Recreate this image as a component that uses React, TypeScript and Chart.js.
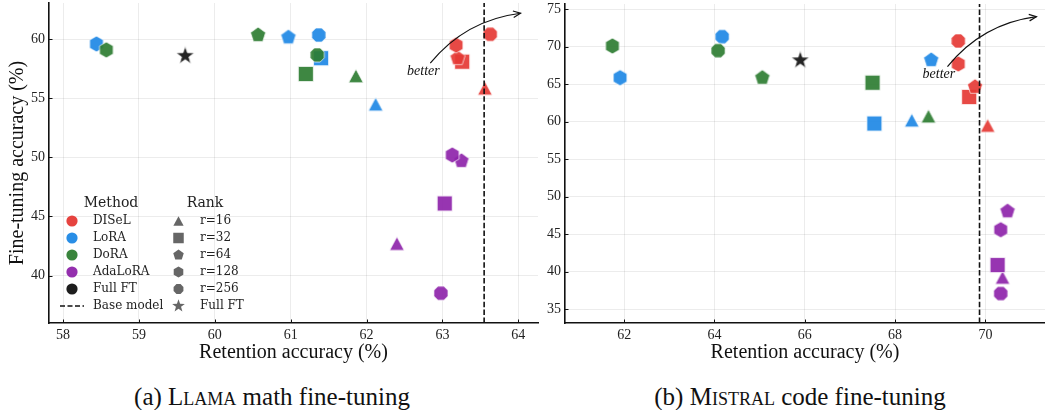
import React, { useEffect, useRef } from 'react';
import { Chart, registerables } from 'chart.js';

Chart.register(...registerables);

// ---------- categories ----------
const METHODS = ['DISeL', 'LoRA', 'DoRA', 'AdaLoRA', 'Full FT'];
const METHOD_COLORS = ['#E53935', '#1E88E5', '#2E7D32', '#8E24AA', '#111111'];
const RANKS = ['r=16', 'r=32', 'r=64', 'r=128', 'r=256', 'Full FT'];
const RANK_SHAPES = ['triangle', 'square', 'pentagon', 'hexagon', 'octagon', 'star'];

// ---------- (a) LLAMA math fine-tuning : values per rank [16, 32, 64, 128, 256] ----------
const LLAMA_DISEL_X = [63.56, 63.26, 63.2, 63.18, 63.63];
const LLAMA_DISEL_Y = [55.85, 58.1, 58.4, 59.5, 60.42];
const LLAMA_LORA_X = [62.12, 61.4, 60.97, 58.44, 61.37];
const LLAMA_LORA_Y = [54.5, 58.4, 60.17, 59.6, 60.36];
const LLAMA_DORA_X = [61.86, 61.2, 60.57, 58.57, 61.35];
const LLAMA_DORA_Y = [56.9, 57.06, 60.36, 59.1, 58.67];
const LLAMA_ADALORA_X = [62.4, 63.03, 63.25, 63.13, 62.98];
const LLAMA_ADALORA_Y = [42.7, 46.1, 49.7, 50.2, 38.5];
const LLAMA_FULLFT = [59.61, 58.6];
const LLAMA_BASE = 63.55;
const LLAMA_X_RANGE = [57.814, 64.26];
const LLAMA_Y_RANGE = [35.98, 63.07];
const LLAMA_ARROW_FROM = [62.84, 57.97];
const LLAMA_ARROW_TO = [64.03, 62.2];
const LLAMA_ARROW_TEXT = [62.75, 57.26];

// ---------- (b) MISTRAL code fine-tuning ----------
const MISTRAL_DISEL_X = [70.05, 69.64, 69.77, 69.4, 69.4];
const MISTRAL_DISEL_Y = [59.5, 63.3, 64.65, 67.7, 70.76];
const MISTRAL_LORA_X = [68.37, 67.54, 68.8, 61.91, 64.17];
const MISTRAL_LORA_Y = [60.2, 59.76, 68.22, 65.86, 71.34];
const MISTRAL_DORA_X = [68.74, 67.5, 65.06, 61.74, 64.08];
const MISTRAL_DORA_Y = [60.74, 65.2, 65.86, 70.1, 69.47];
const MISTRAL_ADALORA_X = [70.38, 70.27, 70.49, 70.34, 70.34];
const MISTRAL_ADALORA_Y = [39.25, 40.9, 48.07, 45.6, 37.1];
const MISTRAL_FULLFT = [65.9, 68.2];
const MISTRAL_BASE = 69.87;
const MISTRAL_X_RANGE = [60.69, 71.32];
const MISTRAL_Y_RANGE = [33.17, 75.69];
const MISTRAL_ARROW_FROM = [69.16, 67.33];
const MISTRAL_ARROW_TO = [71.13, 74.0];
const MISTRAL_ARROW_TEXT = [68.97, 66.36];

const SERIF = "'Liberation Serif', 'Times New Roman', serif";
const LEGEND_FONT = "'DejaVu Serif', serif";

function shapePath(ctx: CanvasRenderingContext2D, shape: string, cx: number, cy: number, k: number) {
  ctx.beginPath();
  const poly = (n: number, r: number, rot: number) => {
    for (let i = 0; i < n; i++) {
      const a = rot + (i * 2 * Math.PI) / n;
      const x = cx + r * k * Math.sin(a);
      const y = cy - r * k * Math.cos(a);
      if (i === 0) ctx.moveTo(x, y);
      else ctx.lineTo(x, y);
    }
    ctx.closePath();
  };
  switch (shape) {
    case 'triangle':
      ctx.moveTo(cx, cy - 6.8 * k);
      ctx.lineTo(cx + 7.3 * k, cy + 6.8 * k);
      ctx.lineTo(cx - 7.3 * k, cy + 6.8 * k);
      ctx.closePath();
      break;
    case 'square':
      ctx.rect(cx - 7.5 * k, cy - 7.5 * k, 15 * k, 15 * k);
      break;
    case 'pentagon':
      poly(5, 7.9, 0);
      break;
    case 'hexagon':
      poly(6, 7.9, 0);
      break;
    case 'octagon':
      poly(8, 7.6, Math.PI / 8);
      break;
    case 'circle':
      ctx.arc(cx, cy, 5.6 * k, 0, Math.PI * 2);
      break;
    case 'star': {
      const ro = 9.5 * k;
      const ri = ro * 0.4;
      for (let i = 0; i < 10; i++) {
        const r = i % 2 === 0 ? ro : ri;
        const a = (i * Math.PI) / 5;
        const x = cx + r * Math.sin(a);
        const y = cy - r * Math.cos(a);
        if (i === 0) ctx.moveTo(x, y);
        else ctx.lineTo(x, y);
      }
      ctx.closePath();
      break;
    }
  }
}

function makeMarker(shape: string, color: string): HTMLCanvasElement {
  const c = document.createElement('canvas');
  c.width = 24;
  c.height = 24;
  const ctx = c.getContext('2d')!;
  ctx.globalAlpha = 0.92;
  shapePath(ctx, shape, 12, 12, 1);
  ctx.fillStyle = color;
  ctx.fill();
  ctx.globalAlpha = 0.85;
  ctx.strokeStyle = '#ffffff';
  ctx.lineWidth = 0.8;
  ctx.stroke();
  return c;
}

const inwardTicks = {
  id: 'inwardTicks',
  afterDraw(chart: any) {
    const { ctx, chartArea } = chart;
    const xs = chart.scales.x;
    const ys = chart.scales.y;
    ctx.save();
    ctx.strokeStyle = '#111';
    ctx.lineWidth = 1;
    xs.ticks.forEach((_t: any, i: number) => {
      const px = Math.round(xs.getPixelForTick(i)) + 0.5;
      ctx.beginPath();
      ctx.moveTo(px, chartArea.bottom);
      ctx.lineTo(px, chartArea.bottom - 3.5);
      ctx.stroke();
    });
    ys.ticks.forEach((_t: any, i: number) => {
      const py = Math.round(ys.getPixelForTick(i)) + 0.5;
      ctx.beginPath();
      ctx.moveTo(chartArea.left, py);
      ctx.lineTo(chartArea.left + 3.5, py);
      ctx.stroke();
    });
    ctx.restore();
  },
};

function arrowPlugin(from: number[], to: number[], textAt: number[]) {
  return {
    id: 'betterArrow',
    afterDraw(chart: any) {
      const { ctx } = chart;
      const xs = chart.scales.x;
      const ys = chart.scales.y;
      const x1 = xs.getPixelForValue(from[0]);
      const y1 = ys.getPixelForValue(from[1]);
      const x2 = xs.getPixelForValue(to[0]);
      const y2 = ys.getPixelForValue(to[1]);
      const rad = 0.2;
      const dx = x2 - x1;
      const dy = y2 - y1;
      const cx = (x1 + x2) / 2 + rad * dy;
      const cy = (y1 + y2) / 2 - rad * dx;
      ctx.save();
      ctx.strokeStyle = '#111';
      ctx.lineWidth = 1.2;
      ctx.beginPath();
      ctx.moveTo(x1, y1);
      ctx.quadraticCurveTo(cx, cy, x2, y2);
      ctx.stroke();
      const ang = Math.atan2(y2 - cy, x2 - cx);
      const L = 8;
      const spread = 0.42;
      ctx.beginPath();
      ctx.moveTo(x2 - L * Math.cos(ang - spread), y2 - L * Math.sin(ang - spread));
      ctx.lineTo(x2, y2);
      ctx.lineTo(x2 - L * Math.cos(ang + spread), y2 - L * Math.sin(ang + spread));
      ctx.stroke();
      ctx.fillStyle = '#111';
      ctx.font = `italic 14px ${SERIF}`;
      ctx.textAlign = 'center';
      ctx.textBaseline = 'middle';
      ctx.fillText('better', xs.getPixelForValue(textAt[0]), ys.getPixelForValue(textAt[1]));
      ctx.restore();
    },
  };
}

const legendPlugin = {
  id: 'twoColumnLegend',
  afterDraw(chart: any) {
    const { ctx, chartArea } = chart;
    const L = chartArea.left;
    const B = chartArea.bottom;
    ctx.save();
    ctx.fillStyle = '#222';
    ctx.textBaseline = 'middle';
    ctx.textAlign = 'center';
    ctx.font = `14px ${LEGEND_FONT}`;
    ctx.fillText('Method', L + 62, B - 120);
    ctx.fillText('Rank', L + 156, B - 120);
    ctx.font = `12px ${LEGEND_FONT}`;
    ctx.textAlign = 'left';
    const y0 = B - 102;
    const step = 17;
    METHODS.forEach((m, i) => {
      const y = y0 + i * step;
      ctx.save();
      ctx.globalAlpha = 0.95;
      shapePath(ctx, 'circle', L + 23, y, 1);
      ctx.fillStyle = METHOD_COLORS[i];
      ctx.fill();
      ctx.restore();
      ctx.fillText(m, L + 44, y);
    });
    const yb = y0 + METHODS.length * step;
    ctx.save();
    ctx.strokeStyle = '#111';
    ctx.lineWidth = 1.5;
    ctx.setLineDash([5, 2.5]);
    ctx.beginPath();
    ctx.moveTo(L + 11, yb);
    ctx.lineTo(L + 35, yb);
    ctx.stroke();
    ctx.restore();
    ctx.fillText('Base model', L + 44, yb);
    RANKS.forEach((r, i) => {
      const y = y0 + i * step;
      ctx.save();
      shapePath(ctx, RANK_SHAPES[i], L + 129.5, y, 0.7);
      ctx.fillStyle = '#666';
      ctx.fill();
      ctx.restore();
      ctx.fillText(r, L + 151, y);
    });
    ctx.restore();
  },
};

type Spec = {
  xs: number[][];
  ys: number[][];
  full: number[];
  base: number;
  xRange: number[];
  yRange: number[];
  xStep: number;
  yStep: number;
  yAxisWidth: number;
  showYTitle: boolean;
  padding: { left: number; right: number; top: number; bottom: number };
  arrow: any;
  legend: boolean;
};

function zeroPad(s: any) {
  s.paddingTop = 0;
  s.paddingBottom = 0;
  s.paddingLeft = 0;
  s.paddingRight = 0;
}

function buildChart(canvas: HTMLCanvasElement, spec: Spec) {
  const datasets: any[] = [];
  datasets.push({
    label: 'Base model',
    data: [
      { x: spec.base, y: spec.yRange[0] },
      { x: spec.base, y: spec.yRange[1] },
    ],
    showLine: true,
    borderColor: '#111',
    borderWidth: 1.6,
    borderDash: [5.5, 2.4],
    pointRadius: 0,
    order: 0,
  });
  datasets.push({
    label: 'Full FT',
    data: [{ x: spec.full[0], y: spec.full[1] }],
    pointStyle: makeMarker('star', METHOD_COLORS[4]),
    pointRadius: 9,
    order: 1,
  });
  for (let m = 0; m < 4; m++) {
    datasets.push({
      label: METHODS[m],
      data: spec.xs[m].map((x, i) => ({ x, y: spec.ys[m][i] })),
      pointStyle: RANK_SHAPES.slice(0, 5).map((s) => makeMarker(s, METHOD_COLORS[m])),
      pointRadius: 8,
      order: 5 - m,
    });
  }
  const plugins: any[] = [inwardTicks, spec.arrow];
  if (spec.legend) plugins.push(legendPlugin);
  return new Chart(canvas, {
    type: 'scatter',
    data: { datasets },
    options: {
      animation: false,
      responsive: false,
      events: [],
      layout: { padding: spec.padding, autoPadding: false },
      plugins: { legend: { display: false }, tooltip: { enabled: false } },
      scales: {
        x: {
          type: 'linear',
          min: spec.xRange[0],
          max: spec.xRange[1],
          ticks: {
            stepSize: spec.xStep,
            includeBounds: false,
            padding: 4,
            maxRotation: 0,
            color: '#222',
            font: { family: SERIF, size: 14 },
          },
          grid: { color: 'rgba(0,0,0,0.075)', drawTicks: false, lineWidth: 1 },
          border: { display: true, color: '#111', width: 1.6 },
          title: {
            display: true,
            text: 'Retention accuracy (%)',
            color: '#111',
            font: { family: SERIF, size: 20 },
            padding: { top: 0, bottom: 5 },
          },
          afterFit: (s: any) => {
            s.height = 47;
            zeroPad(s);
          },
        },
        y: {
          type: 'linear',
          min: spec.yRange[0],
          max: spec.yRange[1],
          ticks: {
            stepSize: spec.yStep,
            includeBounds: false,
            padding: 4,
            color: '#222',
            font: { family: SERIF, size: 14 },
          },
          grid: { color: 'rgba(0,0,0,0.075)', drawTicks: false, lineWidth: 1 },
          border: { display: true, color: '#111', width: 1.6 },
          title: {
            display: spec.showYTitle,
            text: 'Fine-tuning accuracy (%)',
            color: '#111',
            font: { family: SERIF, size: 20 },
            padding: { top: 6, bottom: 0 },
          },
          afterFit: (s: any) => {
            s.width = spec.yAxisWidth;
            zeroPad(s);
          },
        },
      },
    } as any,
    plugins,
  } as any);
}

export default function App() {
  const leftRef = useRef<HTMLCanvasElement>(null);
  const rightRef = useRef<HTMLCanvasElement>(null);

  useEffect(() => {
    const a = buildChart(leftRef.current!, {
      xs: [LLAMA_DISEL_X, LLAMA_LORA_X, LLAMA_DORA_X, LLAMA_ADALORA_X],
      ys: [LLAMA_DISEL_Y, LLAMA_LORA_Y, LLAMA_DORA_Y, LLAMA_ADALORA_Y],
      full: LLAMA_FULLFT,
      base: LLAMA_BASE,
      xRange: LLAMA_X_RANGE,
      yRange: LLAMA_Y_RANGE,
      xStep: 1,
      yStep: 5,
      yAxisWidth: 49,
      showYTitle: true,
      padding: { left: 0, right: 2, top: 3, bottom: 0 },
      arrow: arrowPlugin(LLAMA_ARROW_FROM, LLAMA_ARROW_TO, LLAMA_ARROW_TEXT),
      legend: true,
    });
    const b = buildChart(rightRef.current!, {
      xs: [MISTRAL_DISEL_X, MISTRAL_LORA_X, MISTRAL_DORA_X, MISTRAL_ADALORA_X],
      ys: [MISTRAL_DISEL_Y, MISTRAL_LORA_Y, MISTRAL_DORA_Y, MISTRAL_ADALORA_Y],
      full: MISTRAL_FULLFT,
      base: MISTRAL_BASE,
      xRange: MISTRAL_X_RANGE,
      yRange: MISTRAL_Y_RANGE,
      xStep: 2,
      yStep: 5,
      yAxisWidth: 25,
      showYTitle: false,
      padding: { left: 0, right: 0, top: 4, bottom: 0 },
      arrow: arrowPlugin(MISTRAL_ARROW_FROM, MISTRAL_ARROW_TO, MISTRAL_ARROW_TEXT),
      legend: false,
    });
    return () => {
      a.destroy();
      b.destroy();
    };
  }, []);

  const caption: React.CSSProperties = {
    position: 'absolute',
    top: 383,
    fontFamily: SERIF,
    fontSize: 25,
    lineHeight: '28px',
    color: '#111',
    whiteSpace: 'nowrap',
    transform: 'translateX(-50%)',
  };

  return (
    <div style={{ position: 'absolute', left: 0, top: 0, width: 1045, height: 410, background: '#fff', overflow: 'hidden' }}>
      <canvas ref={leftRef} width={540} height={370} style={{ position: 'absolute', left: 0, top: 0, width: 540, height: 370 }} />
      <canvas ref={rightRef} width={505} height={370} style={{ position: 'absolute', left: 540, top: 0, width: 505, height: 370 }} />
      <div style={{ ...caption, left: 272 }}>
        (a) <span style={{ fontVariant: 'small-caps' }}>Llama</span> math fine-tuning
      </div>
      <div style={{ ...caption, left: 800 }}>
        (b) <span style={{ fontVariant: 'small-caps' }}>Mistral</span> code fine-tuning
      </div>
    </div>
  );
}
